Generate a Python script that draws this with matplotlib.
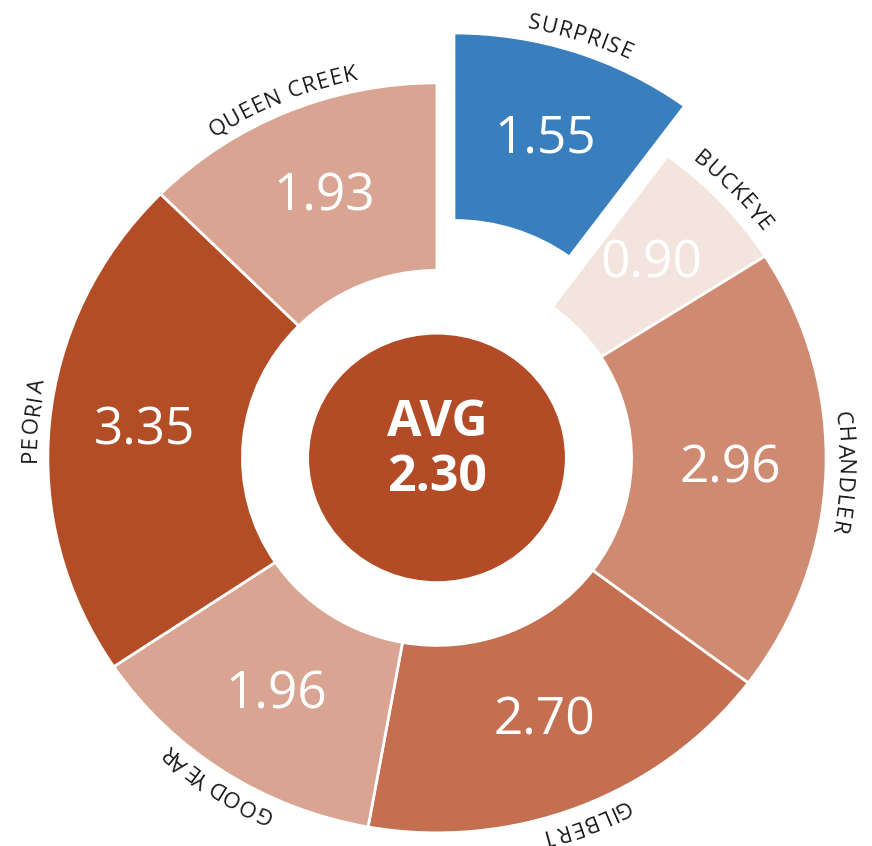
import matplotlib
matplotlib.use("Agg")
import matplotlib.pyplot as plt
from matplotlib.patches import Circle
from matplotlib import font_manager as fm
import numpy as np

# ---- data ----
categories = ["SURPRISE", "BUCKEYE", "CHANDLER", "GILBERT", "GOODYEAR", "PEORIA", "QUEEN CREEK"]
values = [1.55, 0.90, 2.96, 2.70, 1.96, 3.35, 1.93]
slice_colors = ["#3a7fbd", "#f3e4de", "#cf8b72", "#c36f50", "#d9a491", "#b34d26", "#d9a491"]
highlight = "SURPRISE"
avg_label = "AVG"
avg_value = "2.30"

FONT = "Open Sans"
W, H, DPI = 872, 846, 100
fig = plt.figure(figsize=(W / DPI, H / DPI), dpi=DPI)
ax = fig.add_axes([0, 0, 1, 1])

total = sum(values)
explode = [0.14 if c == highlight else 0 for c in categories]

wedges, _, autotexts = ax.pie(
    values, colors=slice_colors, startangle=90, counterclock=False,
    explode=explode, radius=1.0,
    wedgeprops=dict(width=0.5, edgecolor="white", linewidth=2),
    autopct=lambda p: f"{p * total / 100:.2f}", pctdistance=0.755,
    textprops=dict(color="white", fontsize=37, family=FONT),
)

xlim = (-1.123, 1.118)
ylim = (-1.035, 1.221)
ax.set_aspect("auto")
ax.set_xlim(*xlim)
ax.set_ylim(*ylim)
ax.axis("off")

sx = W / (xlim[1] - xlim[0])
sy = H / (ylim[1] - ylim[0])

# center disc
ax.add_patch(Circle((0, 0), 0.327, color="#b34c26", zorder=3))
ax.text(0, 0.093, avg_label, ha="center", va="center", color="white",
        fontsize=36, fontweight="bold", family=FONT, zorder=4)
ax.text(0, -0.053, avg_value, ha="center", va="center", color="white",
        fontsize=36, fontweight="bold", family=FONT, zorder=4)

# arc labels
lab_size = 16
prop = fm.FontProperties(family=FONT, size=lab_size)
ftfont = fm.get_font(fm.findfont(prop))
ftfont.set_size(lab_size, DPI)
spacing = 1.0
r_base = 1.03


def adv(ch):
    g = ftfont.load_char(ord(ch))
    return g.linearHoriAdvance / 65536.0


for w, name in zip(wedges, categories):
    cx, cy = w.center
    tmid = np.deg2rad((w.theta1 + w.theta2) / 2)
    advs = [adv(ch) for ch in name]
    tot = sum(advs) + spacing * (len(name) - 1)
    speed = np.hypot(sx * r_base * np.sin(tmid), sy * r_base * np.cos(tmid))
    pos = -tot / 2
    for ch, a in zip(name, advs):
        off = pos + a / 2
        pos += a + spacing
        th = tmid - off / speed
        x = cx + r_base * np.cos(th)
        y = cy + r_base * np.sin(th)
        rot = np.degrees(np.arctan2(-sy * np.cos(th), sx * np.sin(th)))
        ax.text(x, y, ch, rotation=rot, rotation_mode="anchor",
                ha="center", va="baseline", fontproperties=prop, color="#1a1a1a")

fig.savefig("out.png", dpi=DPI)
